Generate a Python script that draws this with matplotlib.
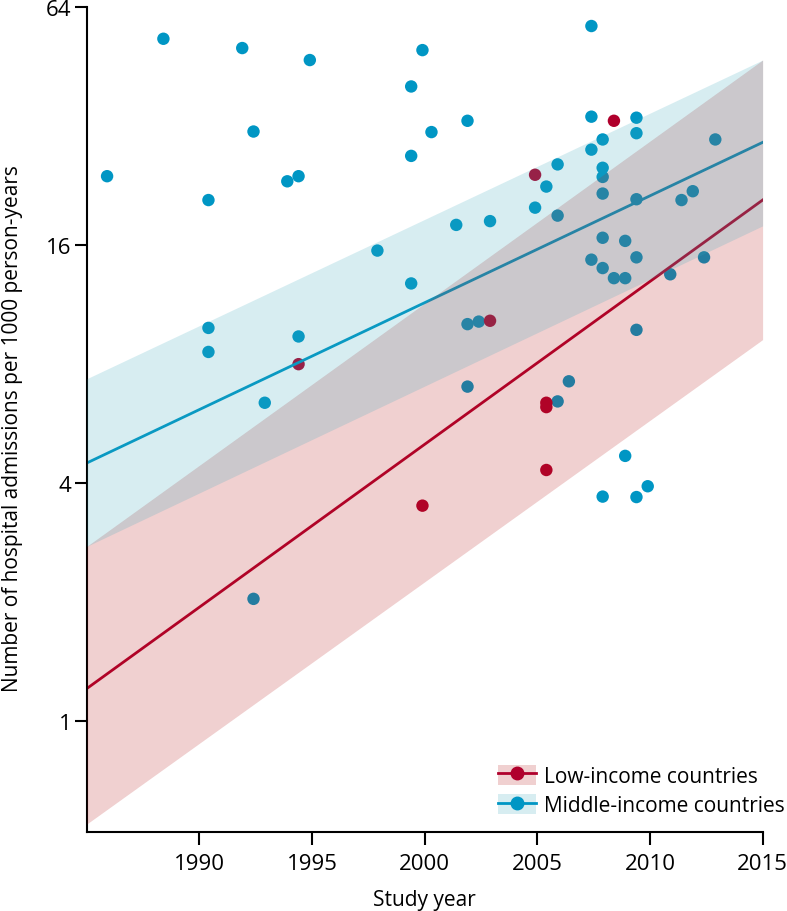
import matplotlib
matplotlib.use("Agg")
import matplotlib.pyplot as plt
from matplotlib.patches import Patch
from matplotlib.lines import Line2D

plt.rcParams["font.family"] = ["Open Sans", "DejaVu Sans"]

# middle-income studies (year, admissions per 1000 person-years)
mid_year = [1988.4, 1991.9, 1994.9, 1999.9, 1999.4, 2000.3, 1999.4, 1985.9, 1992.4,
            1994.4, 1993.9, 1990.4, 1997.9, 1999.4, 2007.4, 2001.9, 2007.4, 2009.4,
            2009.4, 2007.9, 2007.4, 2012.9, 2005.9, 2007.9, 2007.9, 2005.4, 2007.9,
            2004.9, 2009.4, 2011.4, 2011.9, 2005.9, 2001.4, 2002.9, 2007.9, 2008.9,
            2007.4, 2009.4, 2007.9, 2008.4, 2008.9, 2012.4, 2010.9, 1990.4, 1990.4,
            1994.4, 1992.9, 1992.4, 2001.9, 2002.4, 2009.4, 2001.9, 2006.4, 2005.9,
            2008.9, 2007.9, 2009.4, 2009.9]
mid_rate = [53.2, 50.4, 47.0, 49.8, 40.3, 30.9, 26.9, 23.9, 31.0,
            23.9, 23.2, 20.8, 15.5, 12.8, 57.3, 33.0, 33.8, 33.6,
            30.7, 29.6, 27.9, 29.6, 25.6, 25.1, 23.8, 22.5, 21.6,
            19.9, 20.9, 20.8, 21.9, 19.0, 18.0, 18.4, 16.7, 16.4,
            14.7, 14.9, 14.0, 13.2, 13.2, 14.9, 13.5, 9.88, 8.59,
            9.40, 6.39, 2.04, 10.1, 10.25, 9.77, 7.02, 7.24, 6.44,
            4.69, 3.70, 3.69, 3.93]

# low-income studies
low_year = [2008.4, 2004.9, 1994.4, 1999.9, 2002.9, 2005.4, 2005.4, 2005.4]
low_rate = [33.0, 24.1, 8.0, 3.51, 10.3, 6.39, 6.23, 4.32]

# fitted lines and 95% bands at the ends of the year range
fit_year = [1985, 2015]
low_fit = [1.21, 20.8]
low_lo = [0.55, 9.23]
low_hi = [2.77, 47.0]
mid_fit = [4.5, 29.1]
mid_lo = [2.77, 17.9]
mid_hi = [7.35, 47.0]

red = "#b0002c"
blue = "#0096c4"
pink_fill = (0.71, 0.08, 0.08, 0.2)
blue_fill = (0.216, 0.659, 0.737, 0.2)

fig = plt.figure(figsize=(7.87, 9.12), dpi=100)
ax = fig.add_axes([0.1103, 0.0863, 0.8587, 0.9049])

ax.scatter(mid_year, mid_rate, s=80, color=blue, edgecolors="none", zorder=2)
ax.scatter(low_year, low_rate, s=80, color=red, edgecolors="none", zorder=2)
ax.plot(fit_year, mid_fit, color=blue, lw=2, zorder=2)
ax.plot(fit_year, low_fit, color=red, lw=2, zorder=2)
ax.fill_between(fit_year, low_lo, low_hi, color=pink_fill, lw=0, zorder=3)
ax.fill_between(fit_year, mid_lo, mid_hi, color=blue_fill, lw=0, zorder=3)

ax.set_yscale("log", base=2)
ax.set_ylim(0.524, 64)
ax.set_xlim(1985, 2015)
ax.set_yticks([1, 4, 16, 64])
ax.set_yticklabels(["1", "4", "16", "64"])
ax.minorticks_off()
ax.set_xticks([1990, 1995, 2000, 2005, 2010, 2015])

for s in ["top", "right"]:
    ax.spines[s].set_visible(False)
for s in ["left", "bottom"]:
    ax.spines[s].set_linewidth(1.5)
ax.tick_params(length=9, width=1.5, labelsize=16, pad=2)
ax.tick_params(axis="x", pad=6)

ax.set_xlabel("Study year", fontsize=15, labelpad=11)
ax.set_ylabel("Number of hospital admissions per 1000 person-years", fontsize=15)
ax.yaxis.set_label_coords(-0.095, 0.49)

h_low = (Patch(facecolor=pink_fill, edgecolor="none"),
         Line2D([], [], color=red, lw=2, marker="o", markersize=9))
h_mid = (Patch(facecolor=blue_fill, edgecolor="none"),
         Line2D([], [], color=blue, lw=2, marker="o", markersize=9))
fig.legend([h_low, h_mid], ["Low-income countries", "Middle-income countries"],
           loc="lower left", bbox_to_anchor=(0.633, 0.104), frameon=False,
           fontsize=15, handlelength=1.8, handleheight=1.1, handletextpad=0.4,
           labelspacing=0.35, borderpad=0, borderaxespad=0)

fig.savefig("out.png", dpi=100)
